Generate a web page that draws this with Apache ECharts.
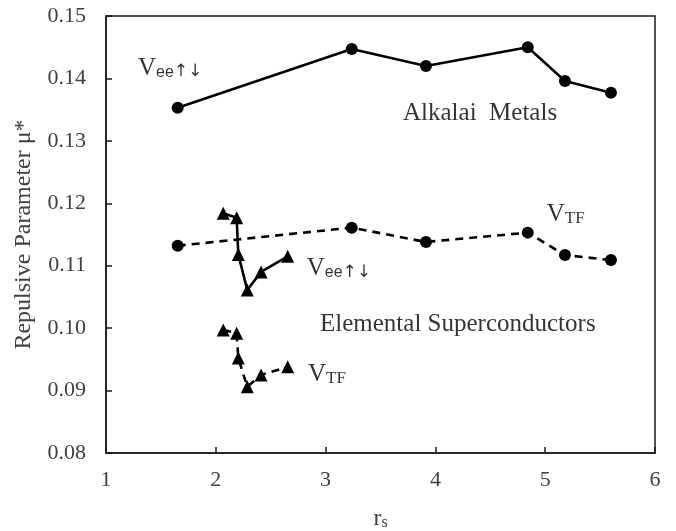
<!DOCTYPE html>
<html>
<head>
<meta charset="utf-8">
<script src="https://cdn.jsdelivr.net/npm/echarts@6/dist/echarts.min.js"></script>
<style>html,body{margin:0;padding:0;background:#fff}#c{width:676px;height:531px}</style>
</head>
<body>
<div id="c"></div>
<script>
// Alkali metals
var alkaliRs = [1.653, 3.238, 3.914, 4.841, 5.180, 5.599];
var alkaliVee = [0.1353, 0.1447, 0.1420, 0.1450, 0.1396, 0.1377];
var alkaliVtf = [0.1132, 0.1161, 0.1138, 0.1153, 0.1117, 0.1109];
// Elemental superconductors
var supRs = [2.068, 2.190, 2.205, 2.287, 2.412, 2.655];
var supVee = [0.1184, 0.1177, 0.1118, 0.1061, 0.1090, 0.1115];
var supVtf = [0.0997, 0.0992, 0.0952, 0.0906, 0.0925, 0.0938];
// Axis ticks
var xTicks = [1, 2, 3, 4, 5, 6];
var yTicks = [0.08, 0.09, 0.10, 0.11, 0.12, 0.13, 0.14, 0.15];
// Annotations [x, y, kind]
var annotations = [
  [1.291, 0.1419, 'vee'],
  [3.705, 0.1344, 'Alkalai  Metals'],
  [5.014, 0.1185, 'vtf'],
  [2.828, 0.1098, 'vee'],
  [2.949, 0.1006, 'Elemental Superconductors'],
  [2.840, 0.0928, 'vtf']
];

function zip(xs, ys) { return xs.map(function (x, i) { return [x, ys[i]]; }); }

var serif = '"Liberation Serif", "Times New Roman", serif';
var chart = echarts.init(document.getElementById('c'), null, {renderer: 'canvas'});

function mk(name, data, symbol, dashed, size) {
  return {
    type: 'line', name: name, data: data, symbol: symbol, symbolSize: size,
    showSymbol: true, animation: false, z: 3,
    itemStyle: {color: '#000'},
    lineStyle: {color: '#000', width: 2.6, type: dashed ? [8, 6] : 'solid'}
  };
}

var option = {
  backgroundColor: '#fff',
  animation: false,
  grid: {left: 106, right: 21, top: 16, bottom: 78, outerBoundsMode: 'none', containLabel: false,
         show: true, borderColor: '#1a1a1a', borderWidth: 1.5, backgroundColor: 'transparent'},
  xAxis: {
    type: 'value', min: xTicks[0], max: xTicks[xTicks.length - 1], interval: 1,
    axisLine: {show: true, lineStyle: {color: '#1a1a1a', width: 1.5}},
    axisTick: {show: true, inside: true, length: 6, lineStyle: {color: '#1a1a1a', width: 1.5}},
    splitLine: {show: false},
    axisLabel: {color: '#404040', fontFamily: serif, fontSize: 22, margin: 16},
    name: '{r|r}{s|s}', nameLocation: 'middle', nameGap: 52,
    nameTextStyle: {
      color: '#404040', fontFamily: serif,
      rich: {r: {fontSize: 24, fontFamily: serif, color: '#404040', verticalAlign: 'bottom', lineHeight: 26},
             s: {fontSize: 16, fontFamily: serif, color: '#404040', verticalAlign: 'bottom', lineHeight: 18}}
    }
  },
  yAxis: {
    type: 'value', min: yTicks[0], max: yTicks[yTicks.length - 1], interval: 0.01,
    axisLine: {show: true, lineStyle: {color: '#1a1a1a', width: 1.5}},
    axisTick: {show: true, inside: true, length: 6, lineStyle: {color: '#1a1a1a', width: 1.5}},
    splitLine: {show: false},
    axisLabel: {color: '#404040', fontFamily: serif, fontSize: 22, margin: 20,
      formatter: function (v) { return v.toFixed(2); }},
    name: 'Repulsive Parameter μ*', nameLocation: 'middle', nameGap: 70, nameRotate: 90,
    nameTextStyle: {color: '#404040', fontFamily: serif, fontSize: 24}
  },
  series: [
    mk('Alkali Vee', zip(alkaliRs, alkaliVee), 'circle', false, 12),
    mk('Alkali VTF', zip(alkaliRs, alkaliVtf), 'circle', true, 12),
    mk('Sup Vee', zip(supRs, supVee), 'triangle', false, 13),
    mk('Sup VTF', zip(supRs, supVtf), 'triangle', true, 13),
    {
      type: 'scatter', symbolSize: 0, silent: true, z: 5, animation: false,
      data: annotations.map(function (a) { return {value: [a[0], a[1]], kind: a[2]}; }),
      label: {
        show: true, position: 'right', distance: 0,
        formatter: function (p) {
          var k = p.data.kind;
          if (k === 'vee') return '{v|V}{e|ee}{a|↑↓}';
          if (k === 'vtf') return '{v|V}{t|TF}';
          return '{big|' + k + '}';
        },
        rich: {
          v: {fontFamily: serif, fontSize: 25, color: '#000', lineHeight: 28, verticalAlign: 'bottom'},
          e: {fontFamily: '"Liberation Sans", Arial, sans-serif', fontSize: 16, color: '#000', lineHeight: 16, verticalAlign: 'bottom'},
          a: {fontFamily: '"DejaVu Sans", sans-serif', fontSize: 17, color: '#000', lineHeight: 17, verticalAlign: 'bottom'},
          t: {fontFamily: serif, fontSize: 17, color: '#000', lineHeight: 16, verticalAlign: 'bottom'},
          big: {fontFamily: serif, fontSize: 25, color: '#000', lineHeight: 28}
        }
      }
    }
  ]
};
chart.setOption(option);
</script>
</body>
</html>
